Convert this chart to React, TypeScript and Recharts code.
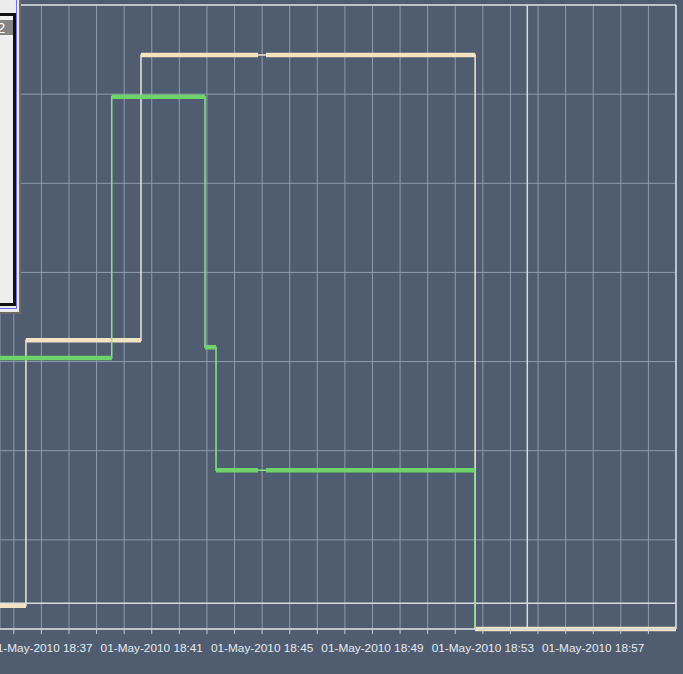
import React from "react";
import {
  LineChart,
  Line,
  XAxis,
  YAxis,
  CartesianGrid,
  ReferenceLine,
} from "recharts";

// ─── Data (time in minutes after 18:00 on 01-May-2010) ──────────────────────

const DATE_LABEL = "01-May-2010";
const LABEL_MINUTES = [37, 41, 45, 49, 53, 57];
const MINUTE_TICKS = [36, 37, 38, 39, 40, 41, 42, 43, 44, 45, 46, 47, 48, 49, 50, 51, 52, 53, 54, 55, 56, 57, 58, 59];
const LEVEL_TICKS = [0, 1, 2, 3, 4, 5, 6, 7];

// step change points
const creamTimes = [35.5, 36.44, 40.61, 52.72, 60];
const creamValues = [0.26, 3.24, 6.44, 0, 0];
const greenTimes = [35.5, 39.55, 42.93, 43.33, 52.72];
const greenValues = [3.04, 5.97, 3.16, 1.78, 0];

// sampled (thick) plateaus: [from, to, level]
const creamPlateaus = [
  [35.5, 36.44, 0.26],
  [36.44, 40.61, 3.24],
  [40.61, 44.85, 6.44],
  [45.14, 52.72, 6.44],
  [52.72, 60, 0],
];
const greenPlateaus = [
  [35.5, 39.55, 3.04],
  [39.55, 42.93, 5.97],
  [42.93, 43.33, 3.16],
  [43.33, 44.85, 1.78],
  [45.14, 52.72, 1.78],
];

const LIMIT_LEVEL = 0.29;
const CURSOR_TIME = 54.61;

// ─── Colours ─────────────────────────────────────────────────────────────────

const BG = "#505d71";
const GRID = "#8f9aad";
const BRIGHT = "#d6dbe2";
const CREAM = "#f3e3c3";
const GREEN = "#6fd36c";

function toSteps(times: number[], values: number[]) {
  return times.map((t, i) => ({ t, v: values[i] }));
}

function toPlateaus(segs: number[][]) {
  const out: { t: number; v: number | null }[] = [];
  segs.forEach(([a, b, v]) => {
    out.push({ t: a, v });
    out.push({ t: b, v });
    out.push({ t: b, v: null });
  });
  return out;
}

function TimeTick({ x, y, payload }: any) {
  const m = payload.value;
  if (!LABEL_MINUTES.includes(m)) return null;
  return (
    <text
      x={x}
      y={y + 16}
      textAnchor="middle"
      fill="#e6eaef"
      fontSize={11.8}
      fontFamily="'Liberation Sans', Arial, sans-serif"
    >
      {`${DATE_LABEL} 18:${m}`}
    </text>
  );
}

// ─── Cropped legend window on the left ───────────────────────────────────────

function LegendWindow() {
  return (
    <>
      <div
        style={{
          position: "absolute",
          left: -300,
          top: -50,
          width: 319,
          height: 362,
          background: "#ececec",
          borderRight: "2px solid #6e6a66",
          borderBottom: "2px solid #6e6a66",
        }}
      />
      <div
        style={{
          position: "absolute",
          left: -300,
          top: -50,
          width: 316,
          height: 358,
          borderRight: "1px solid #6c6cff",
          borderBottom: "1px solid #6c6cff",
        }}
      />
      <div
        style={{
          position: "absolute",
          left: -300,
          top: 13,
          width: 310,
          height: 287,
          background: "#eeeeee",
          border: "3px solid #111",
        }}
      >
        <div
          style={{
            position: "absolute",
            left: 0,
            right: 0,
            top: 4,
            height: 15,
            background: "#858585",
          }}
        />
        <div
          style={{
            position: "absolute",
            left: 294,
            top: 4,
            height: 15,
            lineHeight: "15px",
            color: "#fff",
            fontSize: 15,
            fontFamily: "'Liberation Sans', Arial, sans-serif",
          }}
        >
          2
        </div>
      </div>
    </>
  );
}

export default function App() {
  const creamStep = toSteps(creamTimes, creamValues);
  const greenStep = toSteps(greenTimes, greenValues);
  const creamThick = toPlateaus(creamPlateaus);
  const greenThick = toPlateaus(greenPlateaus);

  return (
    <div
      style={{
        position: "absolute",
        left: 0,
        top: 0,
        width: 683,
        height: 674,
        background: BG,
        overflow: "hidden",
      }}
    >
      <LineChart
        width={683}
        height={674}
        margin={{ top: 5, right: 7, bottom: 15, left: 0 }}
      >
        <CartesianGrid stroke={GRID} strokeWidth={1} />
        <XAxis
          dataKey="t"
          type="number"
          domain={[35.5, 60]}
          ticks={MINUTE_TICKS}
          allowDataOverflow
          height={30}
          axisLine={{ stroke: BRIGHT, strokeWidth: 1.5 }}
          tickLine={{ stroke: "#c4cbd5" }}
          tickSize={5}
          tick={<TimeTick />}
          interval={0}
        />
        <YAxis hide type="number" domain={[0, 7]} ticks={LEVEL_TICKS} />

        <ReferenceLine y={7} stroke={BRIGHT} strokeWidth={1.5} />
        <ReferenceLine y={LIMIT_LEVEL} stroke={BRIGHT} strokeWidth={1.5} />
        <ReferenceLine x={60} stroke={BRIGHT} strokeWidth={1.5} />
        <ReferenceLine x={CURSOR_TIME} stroke={BRIGHT} strokeWidth={1.5} />

        <Line
          data={creamStep}
          dataKey="v"
          type="stepAfter"
          stroke="#ece4d4"
          strokeWidth={1.5}
          dot={false}
          isAnimationActive={false}
        />
        <Line
          data={creamThick}
          dataKey="v"
          type="linear"
          stroke={CREAM}
          strokeWidth={4.5}
          dot={false}
          connectNulls={false}
          isAnimationActive={false}
        />
        <Line
          data={greenStep}
          dataKey="v"
          type="stepAfter"
          stroke="#8fe08c"
          strokeWidth={1.5}
          dot={false}
          isAnimationActive={false}
        />
        <Line
          data={greenThick}
          dataKey="v"
          type="linear"
          stroke={GREEN}
          strokeWidth={4.5}
          dot={false}
          connectNulls={false}
          isAnimationActive={false}
        />
      </LineChart>
      <LegendWindow />
    </div>
  );
}
